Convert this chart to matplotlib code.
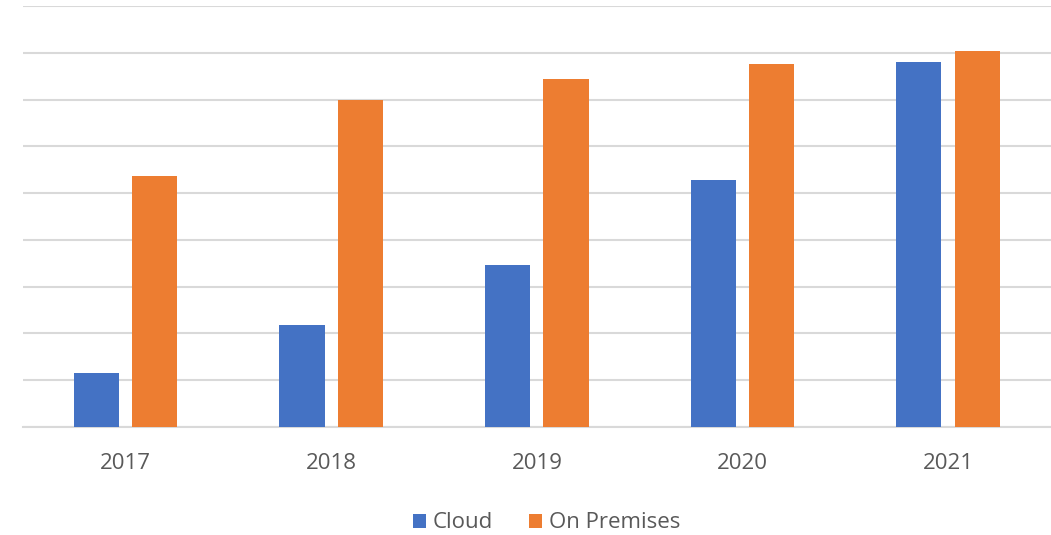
import matplotlib
matplotlib.use("Agg")
import matplotlib.pyplot as plt
import numpy as np

years = ["2017", "2018", "2019", "2020", "2021"]
cloud = [1.16, 2.18, 3.46, 5.27, 7.81]
on_prem = [5.36, 7.0, 7.44, 7.76, 8.03]

plt.rcParams['font.family'] = ['Open Sans', 'DejaVu Sans']

fig = plt.figure(figsize=(10.51, 5.35), dpi=100)
ax = fig.add_axes([23/1051, (535-427)/535, 1028/1051, 421/535])

x = np.arange(len(years))
w = 0.22
ax.bar(x - 0.143, cloud, w, color="#4472C4", label="Cloud", zorder=3)
ax.bar(x + 0.141, on_prem, w, color="#ED7D31", label="On Premises", zorder=3)

ax.set_xlim(-0.5, 4.5)
ax.set_ylim(0, 9)
ax.set_yticks(range(0, 10))
ax.yaxis.grid(True, color="#D9D9D9", linewidth=1.5, zorder=0)
ax.tick_params(axis="y", left=False, labelleft=False)
ax.tick_params(axis="x", bottom=False, labelsize=16, labelcolor="#595959", pad=15)
ax.set_xticks(x)
ax.set_xticklabels(years)
for s in ["top", "right", "left"]:
    ax.spines[s].set_visible(False)
ax.spines["bottom"].set_color("#D9D9D9")
ax.spines["bottom"].set_linewidth(1.5)

fig.legend(loc="center", bbox_to_anchor=(0.52, 1 - 523/535), ncol=2, frameon=False,
           fontsize=16, labelcolor="#595959", handlelength=0.6, handleheight=0.6,
           handletextpad=0.3, columnspacing=1.6)

fig.savefig("out.png", dpi=100)
